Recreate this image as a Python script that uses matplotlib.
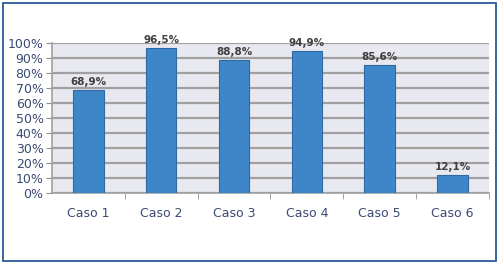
import matplotlib.pyplot as plt
from matplotlib.patches import Rectangle

# data
casos = ['Caso 1', 'Caso 2', 'Caso 3', 'Caso 4', 'Caso 5', 'Caso 6']
valores = [68.9, 96.5, 88.8, 94.9, 85.6, 12.1]
etiquetas = ['68,9%', '96,5%', '88,8%', '94,9%', '85,6%', '12,1%']
yticks = list(range(0, 101, 10))

fig = plt.figure(figsize=(4.99, 2.64), dpi=100)
fig.patch.set_facecolor('white')

# blue frame around the chart
fig.patches.append(Rectangle((0.007, 0.011), 0.986, 0.978, transform=fig.transFigure,
                             fill=False, edgecolor='#2a5a9a', linewidth=1.3))

ax = fig.add_axes([0.104, 0.269, 0.876, 0.568])
ax.set_facecolor('#e8e8f0')

x = range(len(casos))
ax.bar(x, valores, width=0.42, color='#3d87c9', edgecolor='#2d6aa5', linewidth=0.8, zorder=3)

for i, (v, t) in enumerate(zip(valores, etiquetas)):
    ax.text(i, v + 2, t, ha='center', va='bottom', fontsize=7.5, fontweight='bold',
            color='#404040')

ax.set_ylim(0, 100)
ax.set_xlim(-0.5, len(casos) - 0.5)
ax.set_yticks(yticks)
ax.set_yticklabels([f'{t}%' for t in yticks], fontsize=9, color='#3a4a70')
ax.set_xticks(list(x))
ax.set_xticklabels(casos, fontsize=9, color='#3a4a70')
ax.tick_params(axis='x', length=0, pad=10)
ax.tick_params(axis='y', length=4, color='#909090', pad=2)

# small ticks between categories
ax.set_xticks([i + 0.5 for i in range(len(casos))], minor=True)
ax.tick_params(axis='x', which='minor', length=4, color='#909090')

ax.yaxis.grid(True, color='#a0a0a0', linewidth=1.6, zorder=0)
ax.set_axisbelow(True)
for s in ['top', 'right']:
    ax.spines[s].set_visible(False)
ax.spines['left'].set_color('#a0a0a0')
ax.spines['bottom'].set_color('#a0a0a0')
ax.spines['left'].set_linewidth(1.2)
ax.spines['bottom'].set_linewidth(1.2)

fig.savefig('out.png', dpi=100)
